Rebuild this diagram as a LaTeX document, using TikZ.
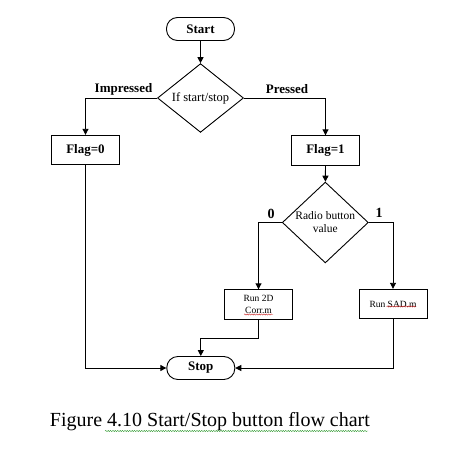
\documentclass[tikz,border=0pt]{standalone}
\usepackage{fontspec}
\setmainfont{Liberation Serif}
\usetikzlibrary{shapes.geometric,arrows.meta,decorations.pathmorphing}
\definecolor{spellred}{RGB}{200,30,30}
\definecolor{spellgreen}{RGB}{40,150,40}
\begin{document}
\begin{tikzpicture}[x=1pt,y=-1pt,
  line width=0.9pt,
  arr/.style={-{Triangle[length=6pt,width=6pt]}},
  bold13/.style={font=\fontsize{13}{15}\selectfont\bfseries},
  term/.style={draw, rectangle, rounded corners=11pt, minimum width=68pt, minimum height=23pt, inner sep=0pt, bold13},
  stepbox/.style={draw, rectangle, minimum width=68pt, minimum height=29.5pt, inner sep=0pt},
  decision/.style={draw, diamond, minimum width=86pt, minimum height=57pt, inner sep=0pt},
  lbl/.style={inner sep=0pt, bold13},
  wavy/.style={decorate, decoration={snake, amplitude=0.6pt, segment length=2.4pt}, line width=0.4pt}]
\useasboundingbox (0,0) rectangle (450,460);
\node[term] (start) at (200.5,29) {Start};
\node[decision, font=\fontsize{12.5}{14}\selectfont] (d1) at (200.5,98) {If start/stop};
\node[stepbox, bold13] (f0) at (85.5,150) {Flag=0};
\node[stepbox, bold13] (f1) at (325.5,150.5) {Flag=1};
\node[decision, font=\fontsize{11.5}{13}\selectfont, align=center] (d2) at (325.3,222.5) {Radio button\\value};
\node[stepbox, font=\fontsize{9.5}{11.5}\selectfont, align=center] (r2d) at (258.5,304.5) {Run 2D\\Corr.m};
\node[stepbox, font=\fontsize{9.5}{11.5}\selectfont] (sad) at (393,304) {Run SAD.m};
\node[term] (stop) at (200.8,368) {Stop};
\node[lbl] (limp) at (123.5,89.5) {Impressed};
\node[lbl] (lpr) at (287,89) {Pressed};
\node[lbl, font=\fontsize{14}{16}\selectfont\bfseries] (l0) at (271,213.5) {0};
\node[lbl, font=\fontsize{14}{16}\selectfont\bfseries] (l1) at (379,213) {1};
\draw[arr] (start) -- (d1);
\draw[arr] (d1.west) -| (f0.north);
\draw[arr] (d1.east) -| (f1.north);
\draw[arr] (f1) -- (d2);
\draw[arr] (d2.west) -| (r2d.north);
\draw[arr] (d2.east) -| (sad.north);
\draw[arr] (r2d.south) -- ++(0,18.5) -| (stop.north);
\draw[arr] (f0.south) |- (stop.west);
\draw[arr] (sad.south) |- (stop.east);
\node[font=\fontsize{20}{24}\selectfont, inner sep=0pt, anchor=base west] (cap) at (49.5,426.5) {Figure 4.10 Start/Stop button flow chart};
\draw[wavy, spellgreen] (105,431) -- (368,431);
\draw[wavy, spellred] (244,314.5) -- (273,314.5);
\draw[wavy, spellred] (386.5,306.5) -- (416,306.5);
\end{tikzpicture}
\end{document}
